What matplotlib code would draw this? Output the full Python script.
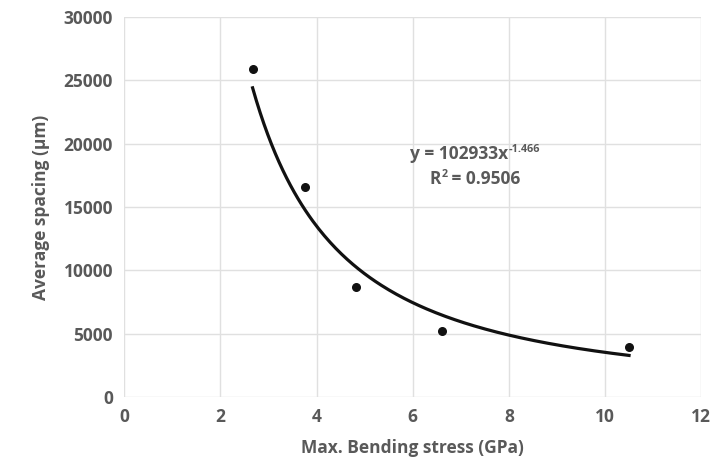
import numpy as np
import matplotlib.pyplot as plt

# measured points
stress = [2.67, 3.77, 4.83, 6.62, 10.50]
spacing = [25900, 16600, 8700, 5240, 3950]

# power trendline reported on the chart
coef_a = 102933
coef_b = -1.466
r2 = 0.9506

x_ticks = [0, 2, 4, 6, 8, 10, 12]
y_ticks = [0, 5000, 10000, 15000, 20000, 25000, 30000]

txt = '#595959'
grid = '#e0e0e0'
fs = 12.5

plt.rcParams['font.family'] = ['Open Sans', 'DejaVu Sans']

fig = plt.figure(figsize=(7.14, 4.67), dpi=100)
ax = fig.add_axes([0.174, 0.150, 0.808, 0.814])

xf = np.linspace(min(stress), max(stress), 200)
ax.plot(xf, coef_a * xf ** coef_b, color='#111111', lw=2.3, zorder=3)
ax.scatter(stress, spacing, s=30, color='#111111', zorder=4)

ax.set_xlim(0, 12)
ax.set_ylim(0, 30000)
ax.set_xticks(x_ticks)
ax.set_yticks(y_ticks)
ax.grid(True, color=grid, lw=1)
ax.set_axisbelow(True)
for s in ax.spines.values():
    s.set_visible(False)
ax.tick_params(length=0, labelsize=fs, labelcolor=txt, pad=8)
for lab in ax.get_xticklabels() + ax.get_yticklabels():
    lab.set_fontweight('bold')

ax.set_xlabel('Max. Bending stress (GPa)', fontsize=fs, fontweight='bold',
              color=txt, labelpad=9)
ax.set_ylabel('Average spacing (µm)', fontsize=fs, fontweight='bold',
              color=txt, labelpad=10)

# trendline equation, superscripts drawn as separate small texts
fig.canvas.draw()
r = fig.canvas.get_renderer()
sm = fs * 0.62
lift = 7


def put_line(parts, x, y):
    # parts: list of (string, is_superscript)
    ts = []
    for s, sup in parts:
        t = ax.text(0, 0, s, fontsize=sm if sup else fs, fontweight='bold',
                    color=txt, va='baseline', transform=None)
        ts.append((t, sup, t.get_window_extent(r).width))
    cx, cy = ax.transData.transform((x, y))
    base = cy - 6
    xx = cx - sum(w for _, _, w in ts) / 2
    for t, sup, w in ts:
        t.set_position((xx, base + (lift if sup else 0)))
        xx += w


put_line([('y = %dx' % coef_a, False), ('%.3f' % coef_b, True)], 7.3, 19250)
put_line([('R', False), ('2', True), (' = %.4f' % r2, False)], 7.3, 17250)

fig.savefig('out.png', dpi=100, facecolor='white')
